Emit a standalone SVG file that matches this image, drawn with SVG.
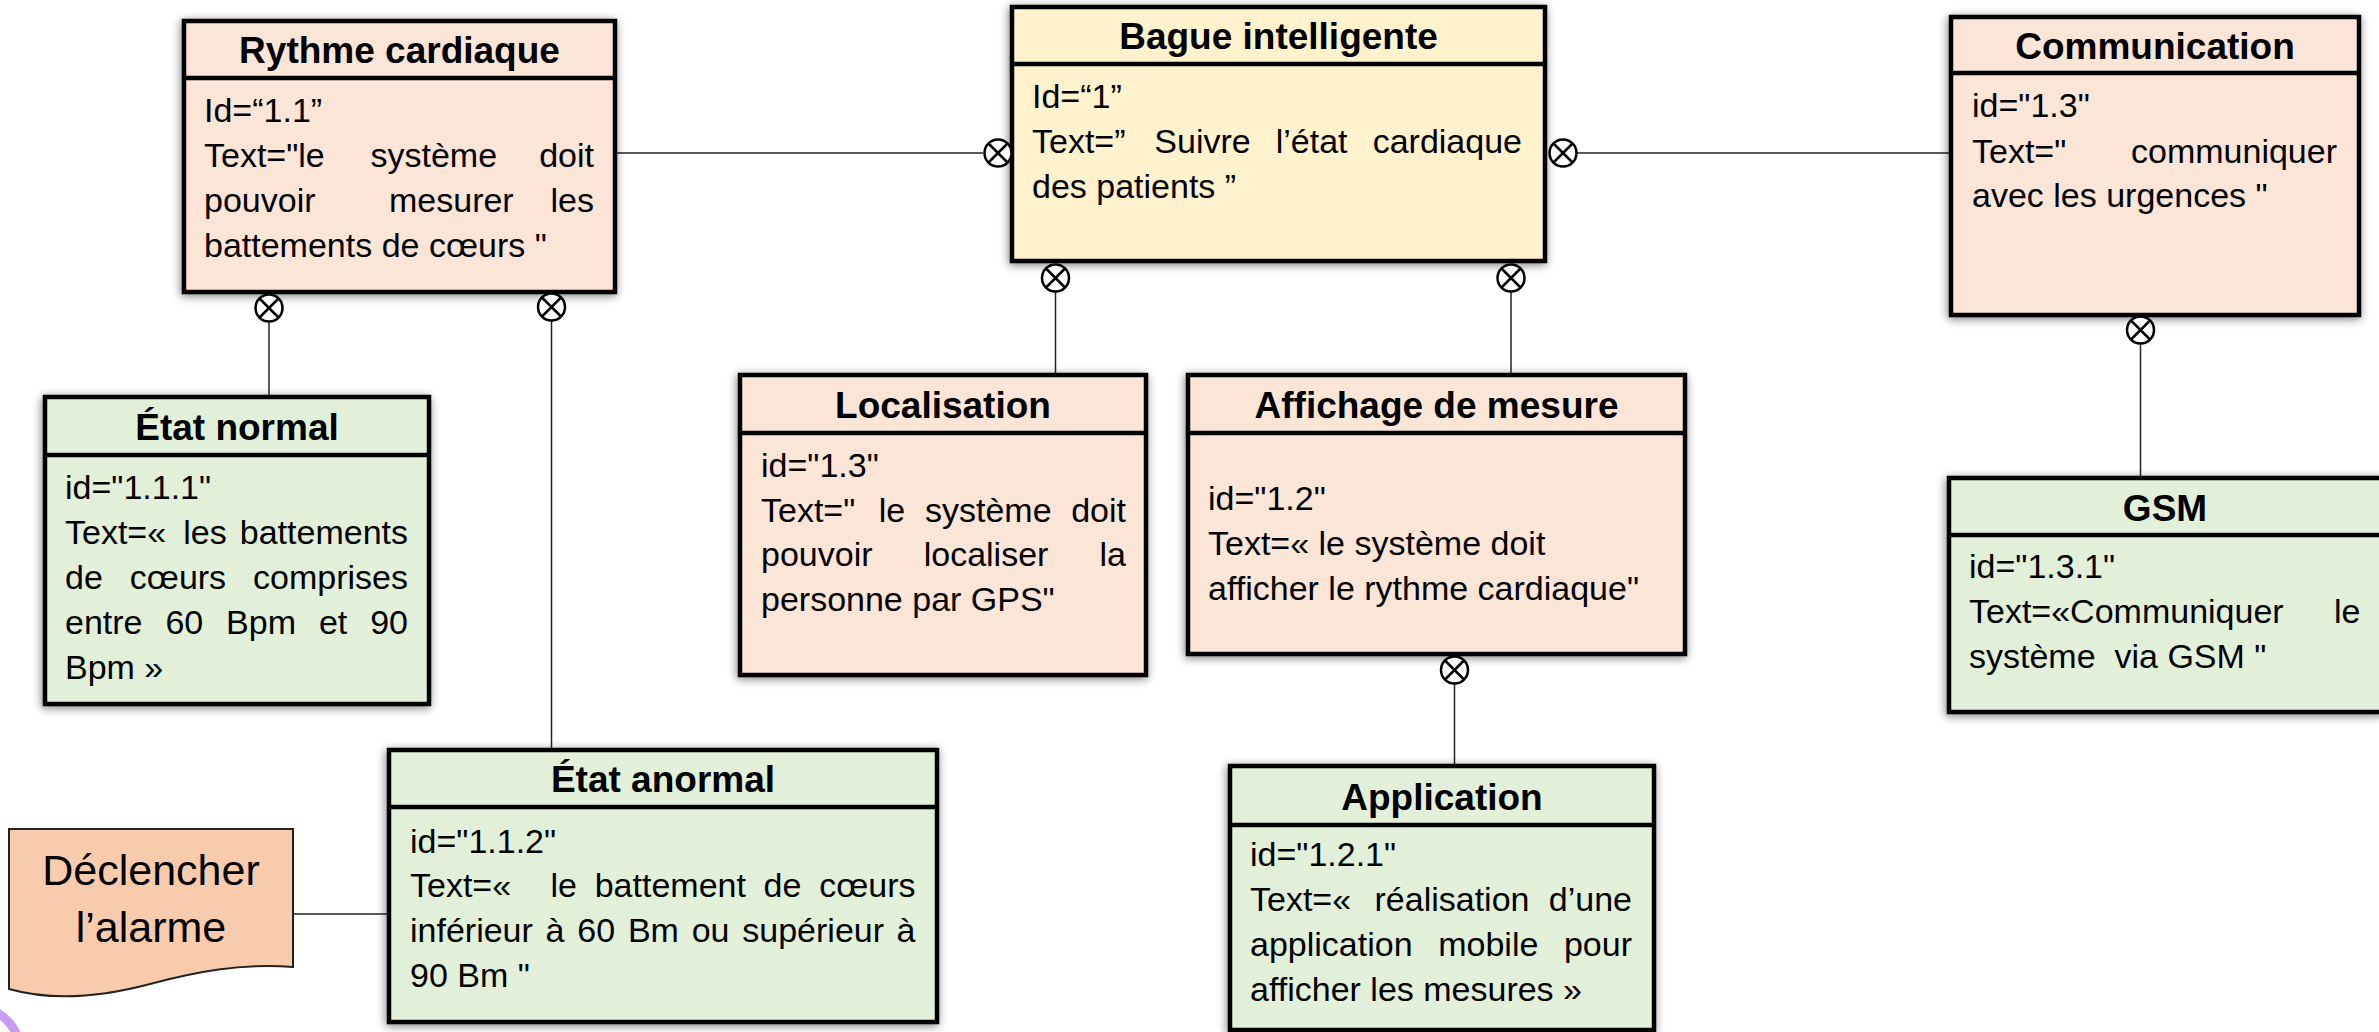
<svg xmlns="http://www.w3.org/2000/svg" width="2379" height="1032" viewBox="0 0 2379 1032">
<style>
  .box { stroke: #000; stroke-width: 4.5; filter: url(#sh); }
  .peach { fill: #FBE5D6; }
  .green { fill: #E2F0D9; }
  .yellow { fill: #FFF2CC; }
  .div { stroke: #000; stroke-width: 4.5; }
  .t { font-family: "Liberation Sans", Arial, sans-serif; font-weight: bold; font-size: 37px; text-anchor: middle; fill: #000; }
  .b { font-family: "Liberation Sans", Arial, sans-serif; font-size: 34px; fill: #000; white-space: pre; }
  .e { text-anchor: end; }
  .conn line { stroke: #222; stroke-width: 1.5; }
  .doc { fill: #F8CBAD; stroke: #222; stroke-width: 2; }
  .dt { font-family: "Liberation Sans", Arial, sans-serif; font-size: 43px; text-anchor: middle; fill: #000; }
</style>
<defs>
  <filter id="sh" x="-10%" y="-10%" width="120%" height="120%">
    <feGaussianBlur in="SourceAlpha" stdDeviation="5"/>
    <feOffset dx="-1" dy="2"/>
    <feComponentTransfer><feFuncA type="linear" slope="0.5"/></feComponentTransfer>
    <feMerge><feMergeNode/><feMergeNode in="SourceGraphic"/></feMerge>
  </filter>
  <g id="ox">
    <circle r="13.5" fill="#fff" stroke="#000" stroke-width="2.5"/>
    <path d="M-9.5,-9.5 L9.5,9.5 M9.5,-9.5 L-9.5,9.5" stroke="#000" stroke-width="2.5"/>
  </g>
</defs>

<g id="decor">
  <circle cx="-25" cy="1052" r="45" fill="none" stroke="#C89BF7" stroke-width="9"/>
</g>

<g id="connectors" class="conn">
  <line x1="615" y1="153" x2="983" y2="153"/>
  <line x1="1577" y1="153" x2="1951" y2="153"/>
  <line x1="1055.5" y1="292" x2="1055.5" y2="375"/>
  <line x1="1511" y1="292" x2="1511" y2="375"/>
  <line x1="269" y1="322" x2="269" y2="397"/>
  <line x1="551.5" y1="321" x2="551.5" y2="750"/>
  <line x1="2140.5" y1="344" x2="2140.5" y2="478"/>
  <line x1="1454.5" y1="684" x2="1454.5" y2="766"/>
  <line x1="293" y1="914" x2="389" y2="914"/>
</g>

<g id="n-rythme">
  <rect class="box peach" x="184" y="21" width="431" height="271"/>
  <line class="div" x1="184" y1="78" x2="615" y2="78"/>
  <text class="t" x="399.5" y="63">Rythme cardiaque</text>
  <text class="b" x="204" y="122">Id=“1.1”</text>
  <text class="b" x="204" y="167">Text="le</text>
  <text class="b" x="370.5" y="167">système</text>
  <text class="b e" x="594" y="167">doit</text>
  <text class="b" x="204" y="212">pouvoir</text>
  <text class="b" x="389" y="212">mesurer</text>
  <text class="b e" x="594" y="212">les</text>
  <text class="b" x="204" y="257">battements de cœurs "</text>
</g>

<g id="n-bague">
  <rect class="box yellow" x="1012" y="7" width="533" height="254"/>
  <line class="div" x1="1012" y1="64" x2="1545" y2="64"/>
  <text class="t" x="1278.5" y="49">Bague intelligente</text>
  <text class="b" x="1032" y="108">Id=“1”</text>
  <text class="b" x="1032" y="153">Text=”</text>
  <text class="b" x="1154.3" y="153">Suivre</text>
  <text class="b" x="1275.7" y="153">l’état</text>
  <text class="b e" x="1522" y="153">cardiaque</text>
  <text class="b" x="1032" y="198">des patients ”</text>
</g>

<g id="n-communication">
  <rect class="box peach" x="1951" y="17" width="408" height="298"/>
  <line class="div" x1="1951" y1="73" x2="2359" y2="73"/>
  <text class="t" x="2155" y="59">Communication</text>
  <text class="b" x="1972" y="117">id="1.3"</text>
  <text class="b" x="1972" y="163">Text="</text>
  <text class="b e" x="2337" y="163">communiquer</text>
  <text class="b" x="1972" y="207">avec les urgences "</text>
</g>

<g id="n-etat-normal">
  <rect class="box green" x="45" y="397" width="384" height="307"/>
  <line class="div" x1="45" y1="455" x2="429" y2="455"/>
  <text class="t" x="237" y="440">État normal</text>
  <text class="b" x="65" y="499">id="1.1.1"</text>
  <text class="b" x="65" y="544">Text=«</text>
  <text class="b" x="183.2" y="544">les</text>
  <text class="b e" x="408" y="544">battements</text>
  <text class="b" x="65" y="589">de</text>
  <text class="b" x="129.8" y="589">cœurs</text>
  <text class="b e" x="408" y="589">comprises</text>
  <text class="b" x="65" y="634">entre</text>
  <text class="b" x="165.4" y="634">60</text>
  <text class="b" x="226.1" y="634">Bpm</text>
  <text class="b" x="318.9" y="634">et</text>
  <text class="b e" x="408" y="634">90</text>
  <text class="b" x="65" y="679">Bpm »</text>
</g>

<g id="n-localisation">
  <rect class="box peach" x="740" y="375" width="406" height="300"/>
  <line class="div" x1="740" y1="433" x2="1146" y2="433"/>
  <text class="t" x="943" y="418">Localisation</text>
  <text class="b" x="761" y="477">id="1.3"</text>
  <text class="b" x="761" y="522">Text="</text>
  <text class="b" x="878.8" y="522">le</text>
  <text class="b" x="925" y="522">système</text>
  <text class="b e" x="1126" y="522">doit</text>
  <text class="b" x="761" y="566">pouvoir</text>
  <text class="b" x="923.7" y="566">localiser</text>
  <text class="b e" x="1126" y="566">la</text>
  <text class="b" x="761" y="611">personne par GPS"</text>
</g>

<g id="n-affichage">
  <rect class="box peach" x="1188" y="375" width="497" height="279"/>
  <line class="div" x1="1188" y1="433" x2="1685" y2="433"/>
  <text class="t" x="1436.5" y="418">Affichage de mesure</text>
  <text class="b" x="1208" y="510">id="1.2"</text>
  <text class="b" x="1208" y="555">Text=« le système doit</text>
  <text class="b" x="1208" y="600">afficher le rythme cardiaque"</text>
</g>

<g id="n-application">
  <rect class="box green" x="1230" y="766" width="424" height="264"/>
  <line class="div" x1="1230" y1="825" x2="1654" y2="825"/>
  <text class="t" x="1442" y="810">Application</text>
  <text class="b" x="1250" y="866">id="1.2.1"</text>
  <text class="b" x="1250" y="911">Text=«</text>
  <text class="b" x="1374.5" y="911">réalisation</text>
  <text class="b e" x="1632" y="911">d’une</text>
  <text class="b" x="1250" y="956">application</text>
  <text class="b" x="1438.2" y="956">mobile</text>
  <text class="b e" x="1632" y="956">pour</text>
  <text class="b" x="1250" y="1001">afficher les mesures »</text>
</g>

<g id="n-gsm">
  <rect class="box green" x="1949" y="478" width="434" height="234"/>
  <line class="div" x1="1949" y1="535" x2="2383" y2="535"/>
  <text class="t" x="2165" y="521">GSM</text>
  <text class="b" x="1969" y="578">id="1.3.1"</text>
  <text class="b" x="1969" y="623">Text=«Communiquer</text>
  <text class="b e" x="2360.5" y="623">le</text>
  <text class="b" x="1969" y="668">système  via GSM "</text>
</g>

<g id="n-etat-anormal">
  <rect class="box green" x="389" y="750" width="548" height="272"/>
  <line class="div" x1="389" y1="807" x2="937" y2="807"/>
  <text class="t" x="663" y="792">État anormal</text>
  <text class="b" x="410" y="853">id="1.1.2"</text>
  <text class="b" x="410" y="897">Text=«</text>
  <text class="b" x="550.5" y="897">le</text>
  <text class="b" x="594.7" y="897">battement</text>
  <text class="b" x="763.6" y="897">de</text>
  <text class="b e" x="915.5" y="897">cœurs</text>
  <text class="b" x="410" y="942">inférieur</text>
  <text class="b" x="545.6" y="942">à</text>
  <text class="b" x="577.3" y="942">60</text>
  <text class="b" x="627.9" y="942">Bm</text>
  <text class="b" x="691.7" y="942">ou</text>
  <text class="b" x="742.3" y="942">supérieur</text>
  <text class="b e" x="915.5" y="942">à</text>
  <text class="b" x="410" y="987">90 Bm "</text>
</g>

<g id="n-declencher">
  <path class="doc" d="M9,829 H293 V967 C240,963 195,972 150,984 C105,996 55,1002 9,989 Z"/>
  <text class="dt" x="151" y="885">Déclencher</text>
  <text class="dt" x="151" y="942">l’alarme</text>
</g>

<g id="markers">
  <use href="#ox" x="998" y="153"/>
  <use href="#ox" x="1563" y="153"/>
  <use href="#ox" x="1055.5" y="278"/>
  <use href="#ox" x="1511" y="278"/>
  <use href="#ox" x="269" y="308"/>
  <use href="#ox" x="551.5" y="307"/>
  <use href="#ox" x="2140.5" y="330"/>
  <use href="#ox" x="1454.5" y="670"/>
</g>
</svg>
